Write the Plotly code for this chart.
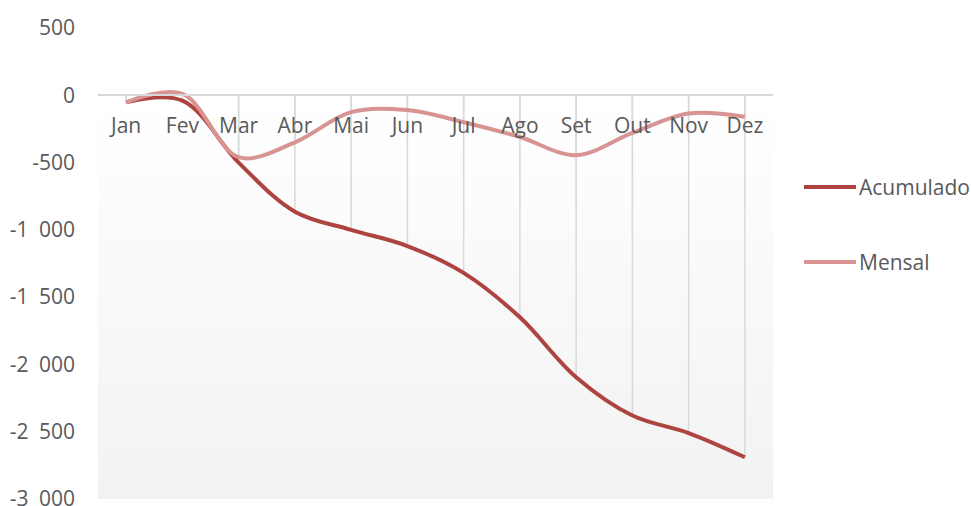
import plotly.graph_objects as go

# Monthly data
meses = ["Jan", "Fev", "Mar", "Abr", "Mai", "Jun", "Jul", "Ago", "Set", "Out", "Nov", "Dez"]
acumulado = [-52, -40, -500, -865, -1000, -1120, -1320, -1650, -2095, -2380, -2510, -2690]
mensal = [-52, 10, -460, -350, -125, -110, -200, -310, -445, -280, -135, -160]

# Y axis ticks (Excel style thousands separator)
y_ticks = [500, 0, -500, -1000, -1500, -2000, -2500, -3000]
y_labels = ["500", "0", "-500", "-1\u2002000", "-1\u2002500", "-2\u2002000", "-2\u2002500", "-3\u2002000"]

COR_ACUM = "#ae4440"
COR_MENS = "#d89492"
FONT = "Open Sans"

W, H = 971, 506
PLOT_L, PLOT_R, PLOT_T, PLOT_B = 98, 773, 28, 499


def px_x(px):
    return (px - PLOT_L) / (PLOT_R - PLOT_L)


def px_y(py):
    return 1 - (py - PLOT_T) / (PLOT_B - PLOT_T)


def main():
    fig = go.Figure()

    ymin, ymax = min(y_ticks), max(y_ticks)

    # drop lines from each point up to the category axis
    xs, ys = [], []
    for serie in (acumulado, mensal):
        for m, v in zip(meses, serie):
            xs += [m, m, None]
            ys += [0, v, None]
    fig.add_trace(go.Scatter(
        x=xs, y=ys, mode="lines",
        line=dict(color="#d9d9d9", width=1.5),
        hoverinfo="skip", showlegend=False,
    ))

    fig.add_trace(go.Scatter(
        x=meses, y=acumulado, name="Acumulado", mode="lines",
        line=dict(color=COR_ACUM, width=4, shape="spline", smoothing=1),
        showlegend=False,
    ))
    fig.add_trace(go.Scatter(
        x=meses, y=mensal, name="Mensal", mode="lines",
        line=dict(color=COR_MENS, width=4, shape="spline", smoothing=1),
        showlegend=False,
    ))

    shapes, annotations = [], []

    # plot area background: vertical gradient white -> light grey, in thin bands
    n = 40
    for i in range(n):
        t = (i + 0.5) / n
        g = round(255 - (255 - 242) * t)
        shapes.append(dict(
            type="rect", xref="paper", yref="y", layer="below",
            x0=0, x1=1, y0=ymin * i / n, y1=ymin * (i + 1) / n,
            fillcolor=f"rgb({g},{g},{g})", line=dict(width=0),
        ))

    # legend drawn by hand (long line sample like the original)
    for nome, cor, py in (("Acumulado", COR_ACUM, 187), ("Mensal", COR_MENS, 262)):
        shapes.append(dict(
            type="line", xref="paper", yref="paper",
            x0=px_x(804), x1=px_x(856), y0=px_y(py), y1=px_y(py),
            line=dict(color=cor, width=4),
        ))
        annotations.append(dict(
            xref="paper", yref="paper", x=px_x(857), y=px_y(py),
            text=nome, showarrow=False, xanchor="left", yanchor="middle",
            font=dict(family=FONT, size=21, color="#595959"),
        ))

    fig.update_layout(
        width=W, height=H,
        margin=dict(l=PLOT_L, r=W - PLOT_R, t=PLOT_T, b=H - PLOT_B),
        paper_bgcolor="white", plot_bgcolor="rgba(0,0,0,0)",
        font=dict(family=FONT, size=21, color="#595959"),
        xaxis=dict(
            type="category", categoryorder="array", categoryarray=meses,
            range=[-0.5, 11.5], anchor="free",
            position=(0 - ymin) / (ymax - ymin),
            showgrid=False, zeroline=False,
            showline=True, linecolor="#d9d9d9", linewidth=1.5,
            ticks="", ticklabelstandoff=12, automargin=False,
        ),
        yaxis=dict(
            range=[ymin, ymax], tickmode="array",
            tickvals=y_ticks, ticktext=y_labels,
            showgrid=False, zeroline=False, showline=False,
            ticks="", ticklabelstandoff=22, automargin=False,
            ticklabeloverflow="allow",
        ),
        shapes=shapes,
        annotations=annotations,
        showlegend=False,
    )

    # drop the default 8px page margin so the chart sits at the window corner
    fig.write_html(
        "out.html",
        config={"displayModeBar": False},
        post_script="document.body.style.margin='0';",
    )


if __name__ == "__main__":
    main()
